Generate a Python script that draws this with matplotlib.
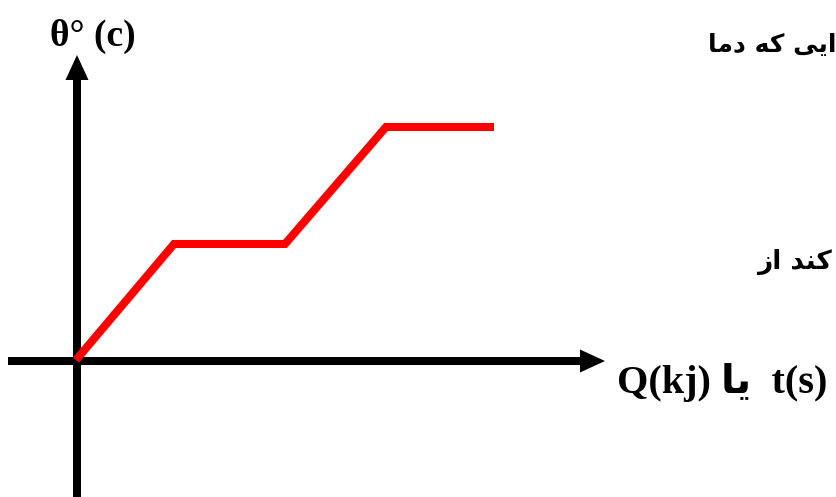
import matplotlib.pyplot as plt

# heating curve: heat added vs temperature (arbitrary units)
heat = [0, 98, 209, 310, 418]
temp = [0, 116, 116, 233, 233]

y_label = "θ° (c)"
# Persian pieces written in visual order with presentation forms
x_label = "Q(kj) \ufe8e\ufbfe  t(s)"
note_top = "\ufe8e\ufee3\ufea9 \ufeea\ufb90 \ufbfd\ufbfe\ufe8d"
note_mid = "\ufeaf\ufe8d \ufeaa\ufee8\ufb90"

fig = plt.figure(figsize=(8.36, 4.97), dpi=100)
ax = fig.add_axes([0, 0, 1, 1])
ax.set_xlim(-76, 760)
ax.set_ylim(-137, 360)
ax.axis('off')

# axes drawn as arrows (data units are one pixel here)
ax.arrow(-68, -1, 597, 0, width=8, head_width=23, head_length=25,
         length_includes_head=True, color='black', lw=0)
ax.arrow(1, -140, 0, 445, width=8, head_width=23, head_length=25,
         length_includes_head=True, color='black', lw=0)

ax.plot(heat, temp, color='#ff0000', lw=5.8, solid_capstyle='butt', solid_joinstyle='miter')

serif = ['Liberation Serif', 'DejaVu Sans']
ax.text(17, 324, y_label, family=serif, weight='bold', fontsize=27, ha='center', va='center')
ax.text(541, -23, x_label, family=serif, weight='bold', fontsize=29, ha='left', va='center')
ax.text(632, 315, note_top, family='DejaVu Sans', weight='bold', fontsize=18, ha='left', va='center')
ax.text(681, 98, note_mid, family='DejaVu Sans', weight='bold', fontsize=19, ha='left', va='center')

fig.savefig('out.png', dpi=100)
